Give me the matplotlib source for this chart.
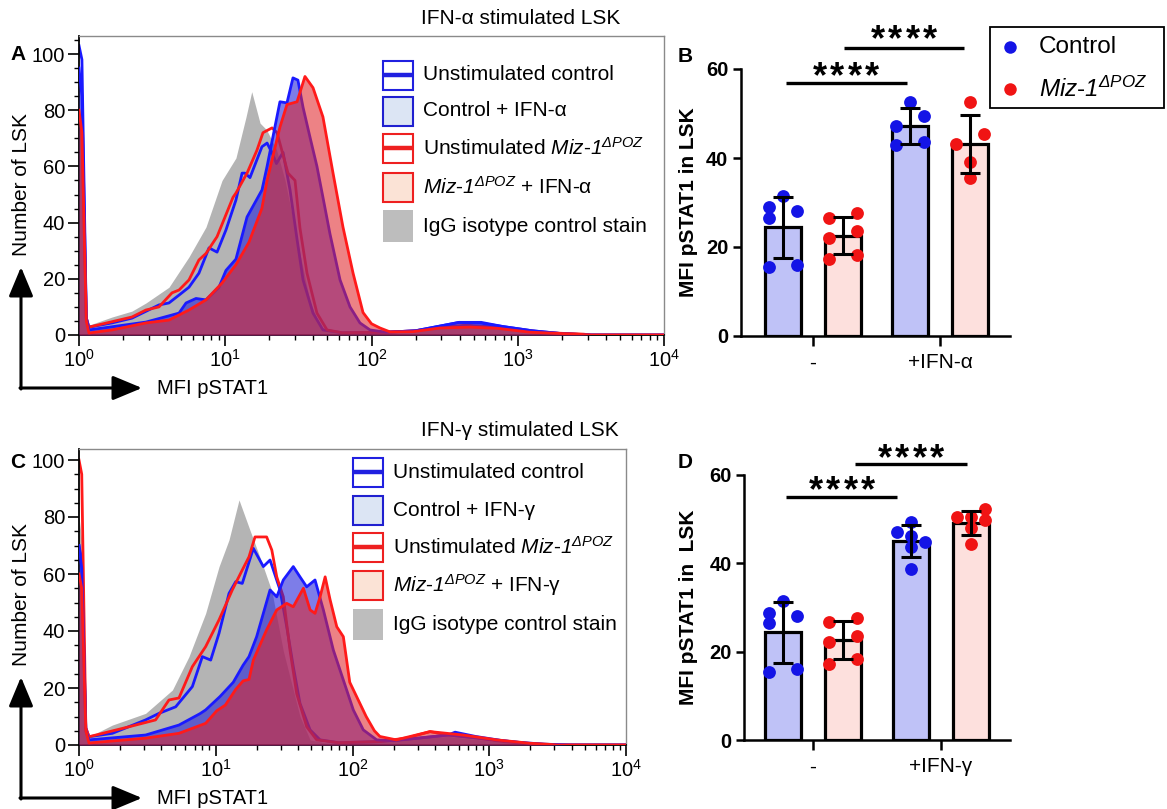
import numpy as np
import matplotlib
matplotlib.use('Agg')
import matplotlib.pyplot as plt
from matplotlib.patches import Rectangle, FancyArrowPatch
from matplotlib.lines import Line2D
from matplotlib.ticker import LogLocator, FuncFormatter, MultipleLocator, NullFormatter

plt.rcParams['font.family'] = ['Liberation Sans', 'DejaVu Sans']
plt.rcParams['mathtext.fontset'] = 'custom'
plt.rcParams['mathtext.rm'] = 'Liberation Sans'
plt.rcParams['mathtext.it'] = 'Liberation Sans:italic'
plt.rcParams['mathtext.sf'] = 'Liberation Sans:italic'
plt.rcParams['mathtext.bf'] = 'Liberation Sans:bold'

# ---------------- data: histograms (log10 MFI pSTAT1, number of LSK) ----------------
# Panel A (IFN-alpha)
a_igg_log = [0.0, 0.02, 0.05, 0.068, 0.226, 0.362, 0.458, 0.615, 0.752, 0.868, 0.978, 1.073, 1.142, 1.181,
             1.238, 1.283, 1.35, 1.409, 1.491, 1.579, 1.648, 1.75, 2.0, 2.3, 2.5, 2.7, 2.9, 3.1, 3.4, 4.0]
a_igg_cnt = [78, 70, 8, 3.5, 6.4, 8.5, 11.4, 17, 27.8, 38.4, 55, 63, 77.6, 86.6,
             75.4, 73, 66, 55, 34, 12, 3, 1, 0.8, 1.5, 3, 3.5, 2.5, 1, 0.3, 0]
a_ctl_ifn_log = [0.0, 0.02, 0.05, 0.068, 0.458, 0.684, 0.732, 0.8, 0.868, 0.957, 1.005, 1.073, 1.149, 1.251,
                 1.286, 1.326, 1.374, 1.422, 1.463, 1.497, 1.532, 1.579, 1.627, 1.668, 1.716, 1.785, 1.853,
                 1.921, 1.99, 2.1, 2.3, 2.5, 2.6, 2.75, 2.9, 3.1, 3.3, 3.5, 4.0]
a_ctl_ifn_cnt = [95, 85, 6, 1.8, 4.6, 7.8, 11.4, 13, 12.5, 17, 23, 27, 42, 51.6,
                 60, 70.5, 83, 82.6, 91.5, 90.7, 81, 70.5, 60, 49, 36, 19.6, 10,
                 4.3, 1.8, 1, 1.5, 3.5, 4.5, 4.2, 3, 1.5, 0.5, 0, 0]
a_miz_ifn_log = [0.0, 0.02, 0.05, 0.068, 0.226, 0.458, 0.615, 0.752, 0.868, 0.978, 1.073, 1.162, 1.25, 1.286,
                 1.374, 1.422, 1.491, 1.545, 1.6, 1.668, 1.737, 1.805, 1.874, 1.942, 2.0, 2.058, 2.127,
                 2.284, 2.468, 2.674, 2.858, 3.084, 3.31, 3.405, 3.5, 4.0]
a_miz_ifn_cnt = [80, 72, 5, 0.7, 1.8, 4.3, 5.3, 8.9, 12.5, 18.5, 25, 33, 45, 55,
                 74, 82, 83, 92, 88, 77.6, 57.6, 38.4, 22, 8, 4, 2.5, 1.1,
                 1.2, 2.5, 2.8, 2.4, 1, 0.5, 0.3, 0, 0]
a_ctl_un_log = [0.0, 0.02, 0.05, 0.068, 0.226, 0.362, 0.547, 0.615, 0.684, 0.752, 0.82, 0.889, 0.944, 1.005,
                1.073, 1.115, 1.135, 1.169, 1.251, 1.286, 1.32, 1.35, 1.395, 1.443, 1.491, 1.532, 1.6,
                1.668, 1.8, 2.1, 2.3, 2.5, 2.6, 2.75, 2.9, 3.1, 3.3, 3.5, 4.0]
a_ctl_un_cnt = [103, 98, 6, 2.8, 4.3, 6, 10.7, 11.4, 14.2, 17, 22, 31, 29.5, 37.4,
                48, 57.6, 57.6, 56, 67, 68.3, 64.8, 61, 65, 51.6, 34, 19.6, 7.8,
                1.8, 0.8, 1, 1.5, 3.5, 4.5, 4.5, 3, 1.5, 0.5, 0, 0]
a_miz_un_log = [0.0, 0.02, 0.05, 0.068, 0.362, 0.458, 0.547, 0.636, 0.684, 0.752, 0.82, 0.868, 0.944, 1.053,
                1.073, 1.149, 1.217, 1.258, 1.32, 1.354, 1.429, 1.477, 1.511, 1.559, 1.627, 1.696, 1.8,
                2.1, 2.3, 2.5, 2.65, 2.8, 3.0, 3.2, 3.45, 3.5, 4.0]
a_miz_un_cnt = [78, 72, 6, 2.8, 6.4, 8.9, 10, 15, 16, 19.6, 26.7, 29, 35, 49,
                50.5, 57.6, 65.8, 72, 73.7, 72, 57.6, 55, 38, 22, 7.8, 1.8, 0.8,
                1, 1.5, 3, 3.5, 3, 2, 0.8, 0.3, 0, 0]

# Panel C (IFN-gamma)
c_igg_log = [0.0, 0.02, 0.05, 0.073, 0.244, 0.487, 0.683, 0.804, 0.926, 1.024, 1.097, 1.17, 1.25, 1.33,
             1.41, 1.494, 1.616, 1.69, 1.8, 2.2, 2.5, 2.7, 2.9, 3.1, 3.4, 4.0]
c_igg_cnt = [80, 72, 6, 2.9, 7, 11.1, 19.3, 31, 46.2, 62.6, 72, 86, 75.4, 65,
             54, 33, 10, 1.8, 0.8, 1, 2.5, 3, 2, 1, 0.3, 0]
c_ctl_ifn_log = [0.0, 0.02, 0.05, 0.073, 0.487, 0.731, 0.885, 0.926, 1.031, 1.128, 1.2, 1.243, 1.299, 1.397,
                 1.446, 1.494, 1.567, 1.616, 1.665, 1.726, 1.787, 1.86, 1.933, 2.006, 2.079, 2.177, 2.3,
                 2.5, 2.7, 2.8, 3.0, 3.2, 3.4, 3.6, 4.0]
c_ctl_ifn_cnt = [70, 62, 5, 1.8, 3.5, 7, 11, 12.3, 17, 22, 28, 31, 38, 54.4,
                 52, 57.9, 62.6, 59, 55.5, 57.9, 47.4, 33.3, 22.8, 12.3, 5.3, 1.8, 1.5,
                 2.5, 3.5, 3, 2, 1, 0.3, 0, 0]
c_miz_ifn_log = [0.0, 0.02, 0.05, 0.073, 0.487, 0.731, 0.926, 1.007, 1.07, 1.146, 1.2, 1.243, 1.275, 1.372,
                 1.446, 1.519, 1.567, 1.641, 1.69, 1.726, 1.763, 1.8, 1.836, 1.885, 1.933, 1.98, 2.04,
                 2.1, 2.16, 2.2, 2.32, 2.567, 2.81, 3.055, 3.3, 3.42, 3.5, 4.0]
c_miz_ifn_cnt = [60, 55, 5, 0.7, 2.4, 4.1, 7.6, 12, 14, 19.5, 22.5, 23, 29.8, 40.4,
                 47.4, 49.7, 48.5, 55, 47.4, 46.2, 52, 59, 51, 41.5, 38, 22, 16,
                 10, 5, 3, 1.8, 4.7, 3.5, 1.8, 0.6, 0.3, 0, 0]
c_ctl_un_log = [0.0, 0.02, 0.05, 0.073, 0.244, 0.487, 0.585, 0.707, 0.829, 0.902, 0.963, 1.024, 1.097, 1.146,
                1.194, 1.275, 1.348, 1.397, 1.47, 1.519, 1.567, 1.616, 1.69, 1.763, 1.9, 2.2, 2.5, 2.7,
                2.75, 2.9, 3.1, 3.3, 3.5, 4.0]
c_ctl_un_cnt = [70, 65, 6, 2.9, 4.1, 8.8, 11.1, 13.4, 20.5, 31, 29.8, 39.2, 53.2, 57.3,
                56.7, 69, 62.6, 64.9, 54.4, 41.5, 27.5, 14.6, 5.3, 1.8, 0.8, 1.2, 2.5, 3.5,
                4.5, 3, 1.5, 0.5, 0, 0]
c_miz_un_log = [0.0, 0.02, 0.05, 0.073, 0.366, 0.56, 0.658, 0.731, 0.829, 0.926, 1.024, 1.121, 1.194, 1.243,
                1.287, 1.372, 1.41, 1.446, 1.494, 1.543, 1.592, 1.665, 1.738, 1.9, 2.2, 2.4, 2.567, 2.7,
                2.9, 3.1, 3.3, 3.5, 4.0]
c_miz_un_cnt = [100, 95, 6, 2.9, 6.4, 8.8, 15.8, 16.5, 27.5, 34.5, 43.9, 54.4, 61.4, 66,
                73, 73, 68.4, 59, 52, 33.3, 18, 6.4, 1.8, 0.8, 1.2, 2.5, 4.7, 3.5,
                2.5, 1.2, 0.4, 0, 0]

# ---------------- data: MFI bar charts (individual mice) ----------------
b_categories = ['-', '+IFN-\u03b1']
d_categories = ['-', '+IFN-\u03b3']
b_ctl_un = [29.0, 26.5, 15.5, 31.5, 28.0, 16.0]
b_miz_un = [26.5, 22.0, 17.4, 27.6, 23.7, 18.2]
b_ctl_ifn = [52.6, 47.2, 42.9, 49.4, 43.6]
b_miz_ifn = [52.6, 39.1, 35.5, 43.1, 45.4]
d_ctl_un = [28.7, 26.5, 15.4, 31.4, 28.1, 16.0]
d_miz_un = [26.7, 22.2, 17.2, 27.6, 23.5, 18.3]
d_ctl_ifn = [49.3, 46.2, 43.7, 38.8, 47.1, 44.9]
d_miz_ifn = [50.5, 47.9, 44.3, 50.4, 52.2, 49.8]

# layout only: dot column of each mouse inside its bar (-1 left, 0 centre, 1 right)
b_cols = [[-1, -1, -1, 0, 1, 1], [-1, -1, -1, 1, 1, 1], [0, -1, -1, 1, 1], [0, 0, 0, -1, 1]]
d_cols = [[-1, -1, -1, 0, 1, 1], [-1, -1, -1, 1, 1, 1], [0, 0, 0, 0, -1, 1], [0, 0, 0, -1, 1, 1]]

# ---------------- figure ----------------
W, H = 1167, 809
fig = plt.figure(figsize=(W / 100, H / 100), dpi=100)

def fx(x):
    return x / W

def fy(y):
    return 1 - y / H

def rect(l, t, r, b):
    return [l / W, 1 - b / H, (r - l) / W, (b - t) / H]

BLUE = '#1a1aff'
RED = '#ff1a1a'
GRAY = '#b4b4b4'
BLUE_FILL = (0.15, 0.15, 0.85)
RED_FILL = (0.88, 0.14, 0.16)


def hist_panel(ax, igg, ctl_ifn, miz_ifn, ctl_un, miz_un, ytop):
    ax.set_xscale('log')
    ax.set_xlim(1, 1e4)
    ax.set_ylim(0, ytop)
    x = 10 ** np.array(igg[0])
    ax.fill_between(x, 0, igg[1], color=GRAY, lw=0, zorder=1)
    ax.plot(10 ** np.array(ctl_un[0]), ctl_un[1], color=BLUE, lw=2.0, zorder=2, solid_joinstyle='round')
    ax.plot(10 ** np.array(miz_un[0]), miz_un[1], color=RED, lw=2.0, zorder=2.1, solid_joinstyle='round')
    xb = 10 ** np.array(ctl_ifn[0])
    ax.fill_between(xb, 0, ctl_ifn[1], color=BLUE_FILL, alpha=0.6, lw=0, zorder=3)
    ax.plot(xb, ctl_ifn[1], color=BLUE, lw=2.0, zorder=3.1, solid_joinstyle='round')
    xr = 10 ** np.array(miz_ifn[0])
    ax.fill_between(xr, 0, miz_ifn[1], color=RED_FILL, alpha=0.57, lw=0, zorder=4)
    ax.plot(xr, miz_ifn[1], color=RED, lw=2.0, zorder=4.1, solid_joinstyle='round')

    ax.xaxis.set_major_locator(LogLocator(base=10, numticks=10))
    ax.xaxis.set_minor_locator(LogLocator(base=10, subs=np.arange(2, 10), numticks=40))
    ax.xaxis.set_minor_formatter(NullFormatter())
    ax.xaxis.set_major_formatter(FuncFormatter(lambda v, p: r'$\mathregular{10^{%d}}$' % int(round(np.log10(v)))))
    ax.yaxis.set_major_locator(MultipleLocator(20))
    ax.yaxis.set_minor_locator(MultipleLocator(5))
    ax.tick_params(axis='both', which='major', direction='out', length=8, width=1.2, labelsize=14.5, pad=2)
    ax.tick_params(axis='both', which='minor', direction='out', length=3.5, width=1.0)
    for s in ['left', 'bottom']:
        ax.spines[s].set_color('black')
        ax.spines[s].set_linewidth(1.3)
    for s in ['top', 'right']:
        ax.spines[s].set_color('#8a8a8a')
        ax.spines[s].set_linewidth(1.0)


axA = fig.add_axes(rect(79, 36, 664, 335))
hist_panel(axA, (a_igg_log, a_igg_cnt), (a_ctl_ifn_log, a_ctl_ifn_cnt), (a_miz_ifn_log, a_miz_ifn_cnt),
           (a_ctl_un_log, a_ctl_un_cnt), (a_miz_un_log, a_miz_un_cnt), (335 - 36) / 2.81)
axC = fig.add_axes(rect(79, 449, 626, 745))
hist_panel(axC, (c_igg_log, c_igg_cnt), (c_ctl_ifn_log, c_ctl_ifn_cnt), (c_miz_ifn_log, c_miz_ifn_cnt),
           (c_ctl_un_log, c_ctl_un_cnt), (c_miz_un_log, c_miz_un_cnt), (745 - 449) / 2.85)

# titles
fig.text(fx(521), fy(18), 'IFN-\u03b1 stimulated LSK', ha='center', va='center', fontsize=15)
fig.text(fx(520), fy(430), 'IFN-\u03b3 stimulated LSK', ha='center', va='center', fontsize=15)

# panel letters
for letter, (px_, py_) in zip('ABCD', [(18, 55), (685, 57), (18, 463), (685, 463)]):
    fig.text(fx(px_), fy(py_), letter, ha='center', va='center', fontsize=15, fontweight='bold')

# arrow axes labels
def corner_arrows(y0, ytip, xtip, label_x):
    ms = 10
    style = '-|>,head_length=1.8,head_width=0.75'
    fig.add_artist(FancyArrowPatch((fx(21), fy(y0 + 1)), (fx(21), fy(ytip)), transform=fig.transFigure,
                                   arrowstyle=style, mutation_scale=ms, lw=2.2, color='black',
                                   shrinkA=0, shrinkB=0))
    fig.add_artist(FancyArrowPatch((fx(20), fy(y0)), (fx(xtip), fy(y0)), transform=fig.transFigure,
                                   arrowstyle=style, mutation_scale=ms, lw=2.2, color='black',
                                   shrinkA=0, shrinkB=0))
    fig.text(fx(label_x), fy(y0), 'MFI pSTAT1', ha='left', va='center', fontsize=14.5)

corner_arrows(388, 267, 142, 157)
corner_arrows(798, 677, 142, 157)
fig.text(fx(22), fy(185), 'Number of LSK', rotation=90, ha='center', va='center', fontsize=15)
fig.text(fx(22), fy(595), 'Number of LSK', rotation=90, ha='center', va='center', fontsize=15)

# histogram legends
MIZ = r'$\mathsf{Miz}$-$\mathsf{1}^{\mathsf{\Delta POZ}}$'

def hist_legend(x0, rows, stim):
    labels = ['Unstimulated control', 'Control + ' + stim, 'Unstimulated ' + MIZ,
              MIZ + ' + ' + stim, 'IgG isotype control stain']
    w, h = 30, 29
    for i, (yc, lab) in enumerate(zip(rows, labels)):
        l, t = x0, yc - h / 2
        if i == 0 or i == 2:
            col = '#2020e0' if i == 0 else '#ee2020'
            fig.add_artist(Rectangle((fx(l), fy(t + h)), w / W, h / H, transform=fig.transFigure,
                                     facecolor='white', edgecolor=col, lw=1.5))
            fig.add_artist(Line2D([fx(l), fx(l + w)], [fy(yc), fy(yc)], transform=fig.transFigure,
                                  color=col, lw=3.2, solid_capstyle='butt'))
        elif i == 1:
            fig.add_artist(Rectangle((fx(l), fy(t + h)), w / W, h / H, transform=fig.transFigure,
                                     facecolor='#dce5f4', edgecolor='#2020d0', lw=1.5))
        elif i == 3:
            fig.add_artist(Rectangle((fx(l), fy(t + h)), w / W, h / H, transform=fig.transFigure,
                                     facecolor='#fbe3d6', edgecolor='#ee2020', lw=1.5))
        else:
            fig.add_artist(Rectangle((fx(l), fy(t + h + 1)), w / W, (h + 2) / H, transform=fig.transFigure,
                                     facecolor='#bdbdbd', edgecolor='none'))
        fig.text(fx(x0 + 40), fy(yc), lab, ha='left', va='center', fontsize=15)

hist_legend(383, [75, 111, 148, 187, 226], 'IFN-\u03b1')
hist_legend(353, [472, 510, 547, 585, 624], 'IFN-\u03b3')

# ---------------- bar panels ----------------
BAR_BLUE = '#bfc2f7'
BAR_RED = '#fde0dd'
DOT_BLUE = '#1414e6'
DOT_RED = '#f01414'


def bar_panel(ax, groups, cols, cats, xlim, sig, ylabel, ylab_xy):
    pos = [-0.236, 0.236, 0.764, 1.236]
    faces = [BAR_BLUE, BAR_RED, BAR_BLUE, BAR_RED]
    dots = [DOT_BLUE, DOT_RED, DOT_BLUE, DOT_RED]
    for p, vals, fc, dc, cc in zip(pos, groups, faces, dots, cols):
        vals = np.array(vals)
        m = vals.mean()
        sd = vals.std(ddof=1)
        ax.bar(p, m, width=0.285, color=fc, edgecolor='black', linewidth=2.3, zorder=1)
        ax.scatter(p + 0.11 * np.array(cc), vals, s=85, color=dc, zorder=2, linewidths=0)
        ax.errorbar(p, m, yerr=sd, color='black', lw=2.2, capsize=7, capthick=2.2, zorder=3)
    ax.set_xlim(*xlim)
    ax.set_ylim(0, 60)
    ax.set_yticks([0, 20, 40, 60])
    ax.set_xticks([0, 1])
    ax.set_xticklabels(cats, fontsize=15)
    for lab in ax.get_yticklabels():
        lab.set_fontweight('bold')
        lab.set_fontsize(14.5)
    ax.tick_params(axis='y', direction='out', length=6, width=1.8, pad=3)
    ax.tick_params(axis='x', direction='out', length=7.5, width=1.8, pad=5)
    for s in ['top', 'right']:
        ax.spines[s].set_visible(False)
    for s in ['left', 'bottom']:
        ax.spines[s].set_linewidth(1.8)
    for (x1, x2, yb, xs, ys) in sig:
        ax.plot([x1, x2], [yb, yb], color='black', lw=2.4, clip_on=False, solid_capstyle='butt')
        for k in range(4):
            ax.annotate('*', (xs, ys), xytext=((k - 1.5) * 12.6, 0), textcoords='offset points',
                        ha='center', va='center', fontsize=26, fontweight='bold', annotation_clip=False)
    fig.text(fx(ylab_xy[0]), fy(ylab_xy[1]), ylabel, rotation=90, ha='center', va='center',
             fontsize=15, fontweight='bold')


axB = fig.add_axes(rect(741, 69, 1010, 336))
bar_panel(axB, [b_ctl_un, b_miz_un, b_ctl_ifn, b_miz_ifn], b_cols, b_categories, (-0.567, 1.551),
          [(-0.213, 0.74, 56.9, 0.26, 58.0), (0.244, 1.19, 64.7, 0.717, 66.3)],
          'MFI pSTAT1 in LSK', (688, 202))

axD = fig.add_axes(rect(744, 475, 1010, 740))
bar_panel(axD, [d_ctl_un, d_miz_un, d_ctl_ifn, d_miz_ifn], d_cols, d_categories, (-0.539, 1.539),
          [(-0.21, 0.66, 55.0, 0.227, 56.2), (0.33, 1.2, 62.4, 0.766, 63.5)],
          'MFI pSTAT1 in  LSK', (688, 607))

# legend for bar panel B
fig.add_artist(Rectangle((fx(990), fy(108)), (1164 - 990) / W, (108 - 27) / H, transform=fig.transFigure,
                         facecolor='white', edgecolor='black', lw=1.3))
fig.add_artist(Line2D([fx(1010)], [fy(47)], transform=fig.transFigure, marker='o', ms=9,
                      color=DOT_BLUE, mec='none', ls='none'))
fig.add_artist(Line2D([fx(1010)], [fy(89)], transform=fig.transFigure, marker='o', ms=9,
                      color=DOT_RED, mec='none', ls='none'))
fig.text(fx(1039), fy(47), 'Control', ha='left', va='center', fontsize=17.5)
fig.text(fx(1039), fy(89), r'$\mathsf{Miz\text{-}1}^{\mathsf{\Delta POZ}}$', ha='left', va='center', fontsize=17.5)

fig.savefig('out.png', dpi=100)
